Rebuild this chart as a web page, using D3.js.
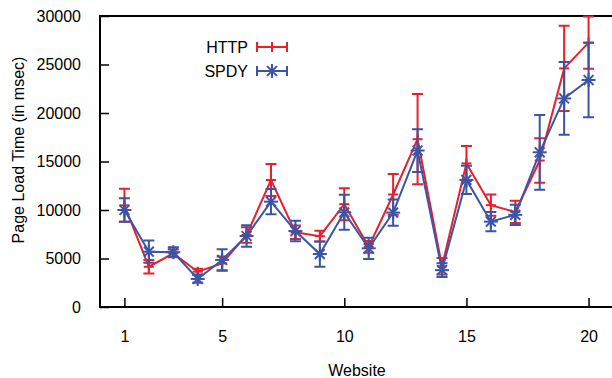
<!DOCTYPE html>
<html>
<head>
<meta charset="utf-8">
<script src="https://cdn.jsdelivr.net/npm/d3@7"></script>
<style>
    body { margin: 0; background: #fff; }
    text { font-family: 'Liberation Sans', Arial, sans-serif; font-size: 16px; fill: #000; }
</style>
</head>
<body>
<div id="chart"></div>
<script>
const websites = d3.range(1, 21);
const httpMean = [10480, 4150, 5530, 3640, 4500, 7430, 13090, 7700, 7300, 10600,
    6200, 11600, 17300, 4200, 14800, 10500, 9800, 15100, 24600, 27250];
const httpErr = [1700, 700, 400, 300, 700, 800, 1650, 700, 550, 1650,
    600, 2100, 4650, 850, 1800, 1100, 1150, 2300, 4400, 2700];
const spdyMean = [10000, 5700, 5650, 2890, 4850, 7320, 10860, 7830, 5460, 9760,
    6050, 9730, 16130, 3800, 13100, 8800, 9500, 15950, 21500, 23400];
const spdyErr = [1200, 1150, 500, 400, 1100, 1100, 1300, 1050, 1300, 1800,
    1100, 1350, 2200, 700, 1450, 1000, 1050, 3850, 3750, 3850];
const xTicks = [1, 5, 10, 15, 20];
const yTicks = [0, 5000, 10000, 15000, 20000, 25000, 30000];

const width = 612;
const height = 378;
const plot = { left: 100, right: 613, top: 16, bottom: 307 };

const svg = d3.select('#chart').append('svg')
    .attr('width', width)
    .attr('height', height);

const xScale = d3.scaleLinear()
    .domain([0, 21])
    .range([plot.left, plot.right]);

const yScale = d3.scaleLinear()
    .domain([0, 30000])
    .range([plot.bottom, plot.top]);

const series = [
    { name: 'HTTP', color: '#e8202e', mean: httpMean, err: httpErr, marker: 'plus' },
    { name: 'SPDY', color: '#3b55a6', mean: spdyMean, err: spdyErr, marker: 'star' },
];

// axes (ticks point inward, gnuplot style)
const yAxis = d3.axisLeft(yScale)
    .tickValues(yTicks)
    .tickSize(-9)
    .tickPadding(19)
    .tickFormat(d3.format('d'));

const xAxis = d3.axisBottom(xScale)
    .tickValues(xTicks)
    .tickSize(-9)
    .tickPadding(24);

const yAxisG = svg.append('g').attr('class', 'axis axis--y')
    .attr('transform', `translate(${plot.left},0)`)
    .call(yAxis);

const xAxisG = svg.append('g').attr('class', 'axis axis--x')
    .attr('transform', `translate(0,${plot.bottom})`)
    .call(xAxis);

[yAxisG, xAxisG].forEach(a => {
    a.select('.domain').remove();
    a.selectAll('.tick line').attr('stroke', '#000').attr('stroke-width', 1.5);
    a.selectAll('.tick text').style('font-size', '16px')
        .style('font-family', "'Liberation Sans', Arial, sans-serif");
});

svg.append('path')
    .attr('d', `M${plot.right},${plot.top}H${plot.left}V${plot.bottom}H${plot.right}Z`)
    .attr('fill', 'none')
    .attr('stroke', '#000')
    .attr('stroke-width', 2);

// axis titles
svg.append('text')
    .attr('transform', 'translate(24,150) rotate(-90)')
    .style('text-anchor', 'middle')
    .text('Page Load Time (in msec)');

svg.append('text')
    .attr('x', 357)
    .attr('y', 376)
    .style('text-anchor', 'middle')
    .text('Website');

function drawMarker(g, type, x, y, color, r) {
    const segs = type === 'plus'
        ? [[-r, 0, r, 0], [0, -r, 0, r]]
        : [[-r, 0, r, 0], [0, -r, 0, r], [-r * 0.7, -r * 0.7, r * 0.7, r * 0.7], [-r * 0.7, r * 0.7, r * 0.7, -r * 0.7]];
    segs.forEach(s => {
        g.append('line')
            .attr('x1', x + s[0]).attr('y1', y + s[1])
            .attr('x2', x + s[2]).attr('y2', y + s[3])
            .attr('stroke', color)
            .attr('stroke-width', 2);
    });
}

const capW = 5.5;

series.forEach(s => {
    const data = websites.map((w, i) => ({ w, v: s.mean[i], e: s.err[i] }));
    const g = svg.append('g').attr('class', `series series--${s.name}`);

    const line = d3.line()
        .x(d => xScale(d.w))
        .y(d => yScale(d.v));

    g.append('path').datum(data)
        .attr('d', line)
        .attr('fill', 'none')
        .attr('stroke', s.color)
        .attr('stroke-width', 2);

    data.forEach(d => {
        const x = xScale(d.w);
        const y0 = yScale(d.v - d.e);
        const y1 = yScale(d.v + d.e);
        g.append('path')
            .attr('d', `M${x},${y0}V${y1}M${x - capW},${y0}H${x + capW}M${x - capW},${y1}H${x + capW}`)
            .attr('fill', 'none')
            .attr('stroke', s.color)
            .attr('stroke-width', 2);
        drawMarker(g, s.marker, x, yScale(d.v), s.color, s.marker === 'star' ? 7 : 5);
    });
});

// legend
const legendY = [47, 71];
series.forEach((s, i) => {
    const y = legendY[i];
    const lg = svg.append('g').attr('class', 'legend-item');
    lg.append('text')
        .attr('x', 248)
        .attr('y', y)
        .attr('dy', '0.35em')
        .style('text-anchor', 'end')
        .text(s.name);
    lg.append('path')
        .attr('d', `M257,${y}H287M257,${y - 5}V${y + 5}M287,${y - 5}V${y + 5}M272,${y - 5}V${y + 5}`)
        .attr('fill', 'none')
        .attr('stroke', s.color)
        .attr('stroke-width', 2);
    drawMarker(lg, s.marker, 272, y, s.color, s.marker === 'star' ? 7 : 5);
});
</script>
</body>
</html>
